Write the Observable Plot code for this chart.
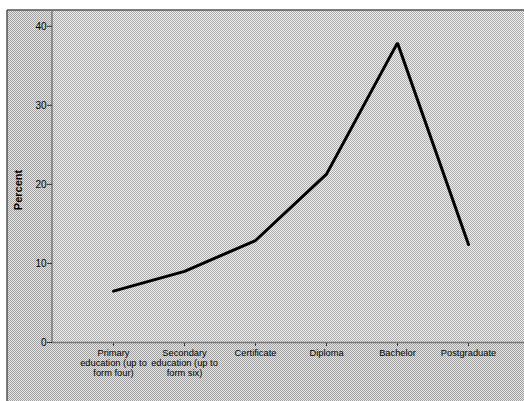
<!DOCTYPE html>
<html>
<head>
<meta charset="utf-8">
<script src="https://cdn.jsdelivr.net/npm/d3@7"></script>
<script src="https://cdn.jsdelivr.net/npm/@observablehq/plot@0.6"></script>
<style>
  html, body { margin: 0; padding: 0; background: #fff; overflow: hidden; width: 524px; height: 401px; }
  #chart svg { display: block; width: 524px !important; height: 401px !important; max-width: none !important; }
</style>
</head>
<body>
<div id="chart"></div>
<script>
const categories = [
  "Primary\neducation (up to\nform four)",
  "Secondary\neducation (up to\nform six)",
  "Certificate",
  "Diploma",
  "Bachelor",
  "Postgraduate"
];
const percents = [6.5, 9.0, 12.9, 21.3, 37.9, 12.4];
const yTicks = [0, 10, 20, 30, 40];

const data = categories.map((c, i) => ({category: c, percent: percents[i]}));

const W = 524, H = 401;
const plot = Plot.plot({
  width: W,
  height: H,
  marginLeft: 52,
  marginRight: -5,
  marginTop: 10,
  marginBottom: 59,
  style: {fontFamily: "Liberation Sans, Arial, sans-serif", fontSize: "10px", background: "transparent", color: "#000"},
  x: {type: "point", domain: categories, padding: 0.82, label: null},
  y: {domain: [0, 42], label: null},
  marks: [
    Plot.axisY({ticks: yTicks, tickSize: 5, tickPadding: 1, stroke: "#333", fontSize: 10, label: null}),
    Plot.axisX({tickSize: 4, tickPadding: 2, stroke: "#333", fontSize: 9.3, lineHeight: 1.08, label: null}),
    Plot.ruleY([0], {stroke: "#777", strokeWidth: 1.5}),
    Plot.line(data, {x: "category", y: "percent", stroke: "#000", strokeWidth: 3, strokeLinejoin: "miter"})
  ]
});

// background decoration: dithered fill
const svg = d3.select(plot);
const defs = svg.insert("defs", ":first-child");
const pat = defs.append("pattern").attr("id", "dither").attr("width", 2).attr("height", 2).attr("patternUnits", "userSpaceOnUse");
pat.append("rect").attr("width", 2).attr("height", 2).attr("fill", "#e6e6e6");
pat.append("rect").attr("width", 1).attr("height", 1).attr("fill", "#a0a0a0");
pat.append("rect").attr("x", 1).attr("y", 1).attr("width", 1).attr("height", 1).attr("fill", "#a0a0a0");
const pat2 = defs.append("pattern").attr("id", "dither2").attr("width", 2).attr("height", 2).attr("patternUnits", "userSpaceOnUse");
pat2.append("rect").attr("width", 2).attr("height", 2).attr("fill", "#eeeeee");
pat2.append("rect").attr("width", 1).attr("height", 1).attr("fill", "#acacac");
pat2.append("rect").attr("x", 1).attr("y", 1).attr("width", 1).attr("height", 1).attr("fill", "#acacac");

const bg = svg.insert("g", "defs + *");
bg.append("rect").attr("x", 7).attr("y", 10).attr("width", W - 7).attr("height", H - 10)
  .attr("fill", "url(#dither)");
bg.append("rect").attr("x", 52).attr("y", 10).attr("width", W - 52).attr("height", 332)
  .attr("fill", "url(#dither2)");
bg.append("line").attr("x1", 7).attr("x2", 7).attr("y1", 10).attr("y2", H)
  .attr("stroke", "#555").attr("stroke-width", 1.5);
bg.append("line").attr("x1", 7).attr("x2", W).attr("y1", 10).attr("y2", 10)
  .attr("stroke", "#555").attr("stroke-width", 1.5);
bg.append("line").attr("x1", 52).attr("x2", 52).attr("y1", 10).attr("y2", 342)
  .attr("stroke", "#777").attr("stroke-width", 1.5);

svg.append("text")
  .attr("transform", "translate(22,190) rotate(-90)")
  .attr("text-anchor", "middle")
  .attr("font-family", "Liberation Sans, Arial, sans-serif")
  .attr("font-weight", "bold")
  .attr("font-size", 11)
  .text("Percent");

document.getElementById("chart").appendChild(plot);
</script>
</body>
</html>
